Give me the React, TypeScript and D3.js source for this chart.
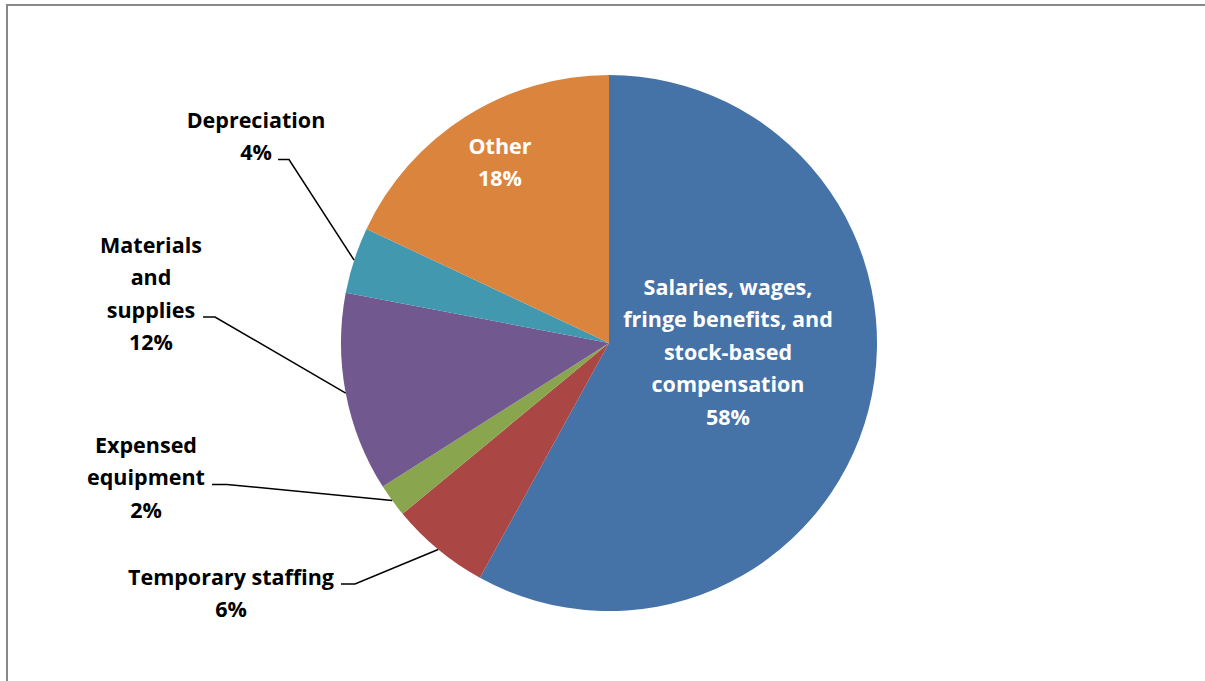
import React from "react";
import * as d3 from "d3";

const categories = [
  "Salaries, wages, fringe benefits, and stock-based compensation",
  "Temporary staffing",
  "Expensed equipment",
  "Materials and supplies",
  "Depreciation",
  "Other",
];
const values = [58, 6, 2, 12, 4, 18];
const colors = ["#4572A7", "#AA4643", "#89A54E", "#71588F", "#4198AF", "#DB843D"];
const labelLines = [
  ["Salaries, wages,", "fringe benefits, and", "stock-based", "compensation"],
  ["Temporary staffing"],
  ["Expensed", "equipment"],
  ["Materials", "and", "supplies"],
  ["Depreciation"],
  ["Other"],
];

// layout (not data)
const CX = 609, CY = 343, R = 268;
const LH = 32.5;
const labelLayout = [
  { x: 728, y: 287, inside: true, leader: null },
  { x: 231, y: 577, inside: false, leader: { x1: 341, x2: 355, lineIdx: 0 } },
  { x: 146, y: 445, inside: false, leader: { x1: 212, x2: 227, lineIdx: 1 } },
  { x: 151, y: 245, inside: false, leader: { x1: 203, x2: 215, lineIdx: 2 } },
  { x: 256, y: 120, inside: false, leader: { x1: 278, x2: 289, lineIdx: 1 } },
  { x: 500, y: 146, inside: true, leader: null },
];

export default function App() {
  const pie = d3.pie<number>().sort(null).value((d) => d);
  const arcs = pie(values);
  const arc = d3.arc<d3.PieArcDatum<number>>().innerRadius(0).outerRadius(R);
  const edge = d3.arc<d3.PieArcDatum<number>>().innerRadius(R).outerRadius(R);
  const font = "'Open Sans', sans-serif";

  return (
    <svg
      width={1205}
      height={681}
      style={{ position: "absolute", left: 0, top: 0 }}
    >
      <rect x={0} y={0} width={1205} height={681} fill="#fff" />
      <path d="M7,681 L7,5 L1205,5" fill="none" stroke="#888" strokeWidth={2} />
      <g transform={`translate(${CX},${CY})`}>
        {arcs.map((a, i) => (
          <path key={i} d={arc(a) || ""} fill={colors[i]} />
        ))}
      </g>
      {arcs.map((a, i) => {
        const L = labelLayout[i];
        const lines = [...labelLines[i], `${values[i]}%`];
        const fill = L.inside ? "#fff" : "#000";
        let leader = null;
        if (L.leader) {
          const c = edge.centroid(a);
          const ly = L.y + L.leader.lineIdx * LH + 7;
          leader = (
            <path
              d={`M${L.leader.x1},${ly} L${L.leader.x2},${ly} L${CX + c[0]},${CY + c[1]}`}
              fill="none"
              stroke="#000"
              strokeWidth={1.5}
            />
          );
        }
        return (
          <g key={i}>
            {leader}
            <text
              textAnchor="middle"
              fontFamily={font}
              fontWeight="bold"
              fontSize={21.5}
              fill={fill}
            >
              {lines.map((t, j) => (
                <tspan key={j} x={L.x} y={L.y + j * LH} dy="0.35em">
                  {t}
                </tspan>
              ))}
            </text>
          </g>
        );
      })}
    </svg>
  );
}
